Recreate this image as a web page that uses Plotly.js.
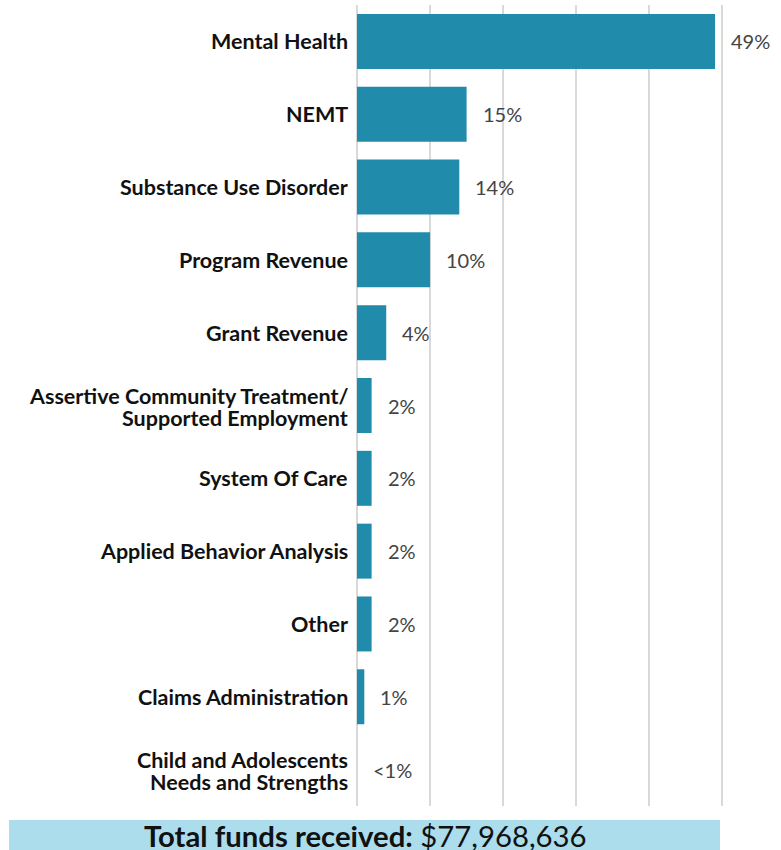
<!DOCTYPE html>
<html>
<head>
<meta charset="utf-8">
<script src="https://cdn.plot.ly/plotly-3.0.1.min.js"></script>
<style>html,body{margin:0;padding:0;background:#fff;}#chart{width:781px;height:850px;}</style>
</head>
<body>
<div id="chart"></div>
<script>
const categories = [
  "Mental Health",
  "NEMT",
  "Substance Use Disorder",
  "Program Revenue",
  "Grant Revenue",
  "Assertive Community Treatment/<br>Supported Employment",
  "System Of Care",
  "Applied Behavior Analysis",
  "Other",
  "Claims Administration",
  "Child and Adolescents<br>Needs and Strengths"
];
const shares = [49, 15, 14, 10, 4, 2, 2, 2, 2, 1, 0];
const shareLabels = ["49%", "15%", "14%", "10%", "4%", "2%", "2%", "2%", "2%", "1%", "<1%"];
const totalLabel = "<b>Total funds received:</b> $77,968,636";

const barColor = "#218bab";

const trace = {
  type: "bar",
  orientation: "h",
  y: categories,
  x: shares,
  marker: {color: barColor},
  hoverinfo: "skip"
};

const labelFont = {family: "Lato", size: 21.5, color: "#111111", weight: 700};
const annotations = [];

// category labels (multi-line labels drawn line by line for tighter spacing)
categories.forEach((c) => {
  const lines = c.split("<br>");
  if (lines.length === 1) {
    annotations.push({
      x: 0, xref: "paper", y: c, yref: "y",
      text: c, showarrow: false, xanchor: "right", yanchor: "middle",
      xshift: -7, font: labelFont
    });
  } else {
    annotations.push({
      x: 0, xref: "paper", y: c, yref: "y",
      text: lines[0], showarrow: false, xanchor: "right", yanchor: "middle",
      xshift: -7, yshift: 9.5, font: labelFont
    });
    annotations.push({
      x: 0, xref: "paper", y: c, yref: "y",
      text: lines[1], showarrow: false, xanchor: "right", yanchor: "middle",
      xshift: -7, yshift: -12.5, font: labelFont
    });
  }
});

// value labels
categories.forEach((c, i) => {
  annotations.push({
    x: shares[i], y: c, xref: "x", yref: "y",
    text: shareLabels[i], showarrow: false,
    xanchor: "left", yanchor: "middle", xshift: 14,
    font: {family: "Lato", size: 20, color: "#444444"}
  });
});

annotations.push({
  xref: "paper", yref: "paper",
  x: (365 - 357) / 369, y: (806 - 835) / 801,
  xanchor: "center", yanchor: "middle",
  text: totalLabel, showarrow: false,
  font: {family: "Lato", size: 29.3, color: "#111111"}
});

const layout = {
  width: 781, height: 850,
  margin: {l: 357, r: 55, t: 5, b: 44},
  paper_bgcolor: "#ffffff", plot_bgcolor: "#ffffff",
  showlegend: false,
  bargap: 0.245,
  font: {family: "Lato"},
  xaxis: {
    range: [0, 50.5],
    showticklabels: false,
    showgrid: true, gridcolor: "#d9d9d9", gridwidth: 2,
    dtick: 10, tick0: 0,
    zeroline: true, zerolinecolor: "#d9d9d9", zerolinewidth: 2,
    showline: false, fixedrange: true
  },
  yaxis: {
    autorange: "reversed",
    type: "category",
    showgrid: false, zeroline: false, showline: false,
    ticks: "",
    showticklabels: false,
    fixedrange: true
  },
  shapes: [{
    type: "rect", xref: "paper", yref: "paper",
    x0: (9 - 357) / 369, x1: (720 - 357) / 369,
    y0: (806 - 870) / 801, y1: (806 - 820) / 801,
    fillcolor: "#abdded", line: {width: 0}, layer: "below"
  }],
  annotations: annotations
};

Plotly.newPlot("chart", [trace], layout, {displayModeBar: false, staticPlot: true});
</script>
</body>
</html>
